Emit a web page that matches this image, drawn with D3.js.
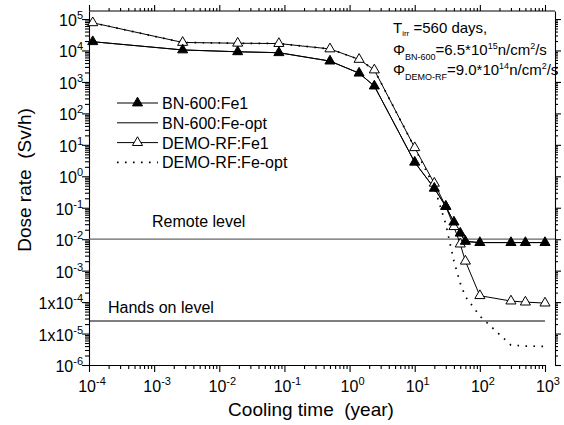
<!DOCTYPE html>
<html>
<head>
<meta charset="utf-8">
<script src="https://cdn.jsdelivr.net/npm/d3@7"></script>
<style>
  body { margin: 0; background: #fff; }
  svg { display: block; font-family: "Liberation Sans", Arial, sans-serif; }
  text { white-space: pre; }
</style>
</head>
<body>
<svg id="chart" width="564" height="425"></svg>
<script>
// cooling times (year): 1 h, 1 d, 7 d, 30 d, then years
var times = [1/8760, 1/365, 7/365, 30/365, 0.5, 1.4, 2.4, 10, 20, 30, 40, 50, 60, 100, 300, 500, 1000];

// dose rate (Sv/h)
var bnFe1     = [1.9e4, 1.04e4, 9.1e3, 8.5e3, 4.6e3, 1.9e3, 740, 2.8, 0.415, 0.11, 0.035, 0.0155, 0.0085, 0.0078, 0.0078, 0.0078, 0.0078];
var bnFeOpt   = [1.9e4, 1.04e4, 9.1e3, 8.5e3, 4.6e3, 1.9e3, 740, 2.8, 0.415, 0.11, 0.035, 0.0155, 0.0085, 0.0078, 0.0078, 0.0078, 0.0078];
var demoFe1   = [7.6e4, 1.8e4, 1.7e4, 1.66e4, 1.12e4, 5.2e3, 2.4e3, 8.1, 0.6, 0.11, 0.025, 0.007, 0.002, 1.6e-4, 1.08e-4, 1.0e-4, 9.3e-5];
var demoFeOpt = [7.6e4, 1.8e4, 1.7e4, 1.66e4, 1.12e4, 5.2e3, 2.4e3, 8.1, 0.45, 0.03, 2e-3, 4e-4, 1.5e-4, 3.6e-5, 4.3e-6, 4e-6, 3.9e-6];

var remoteLevel = 1e-2;
var handsOnLevel = 2.5e-5;

var xExp = [-4, -3, -2, -1, 0, 1, 2, 3];
var yExp = [5, 4, 3, 2, 1, 0, -1, -2, -3, -4, -5, -6];
var yPrefix = {"-4": "1x", "-5": "1x"};

var legendNames = ["BN-600:Fe1", "BN-600:Fe-opt", "DEMO-RF:Fe1", "DEMO-RF:Fe-opt"];

var svg = d3.select("#chart");

var x = d3.scaleLog().domain([1e-4, 1e3]).range([89, 545]);
var y = d3.scaleLog().domain([1e-6, 1.8e5]).range([365, 11]);
var frameRight = 555, frameTop = 11;

// tick values
var xMajor = xExp.map(function(e){ return Math.pow(10, e); });
var xMinor = [];
for (var e = -4; e < 3; e++) for (var k = 2; k < 10; k++) xMinor.push(k * Math.pow(10, e));
var yMajor = yExp.map(function(e){ return Math.pow(10, e); });
var yMinor = [];
for (var e2 = -6; e2 < 5; e2++) for (var k2 = 2; k2 < 10; k2++) yMinor.push(k2 * Math.pow(10, e2));

function tickAxis(gen, vals, size) {
  return gen.tickValues(vals).tickSize(size).tickSizeOuter(0).tickFormat("");
}

// bottom axis
var gb = svg.append("g").attr("transform", "translate(0,365)");
gb.call(tickAxis(d3.axisBottom(x), xMajor, 7));
gb.append("g").call(tickAxis(d3.axisBottom(x), xMinor, 4)).select(".domain").remove();
// top ticks
var gt = svg.append("g").attr("transform", "translate(0," + frameTop + ")");
gt.call(tickAxis(d3.axisTop(x), xMajor, 6)).select(".domain").remove();
gt.append("g").call(tickAxis(d3.axisTop(x), xMinor, 3)).select(".domain").remove();
// left axis
var gl = svg.append("g").attr("transform", "translate(89,0)");
gl.call(tickAxis(d3.axisLeft(y), yMajor, 7));
gl.append("g").call(tickAxis(d3.axisLeft(y), yMinor, 4)).select(".domain").remove();
// right ticks
var gr = svg.append("g").attr("transform", "translate(" + frameRight + ",0)");
gr.call(tickAxis(d3.axisRight(y), yMajor, 6));
gr.append("g").call(tickAxis(d3.axisRight(y), yMinor, 3)).select(".domain").remove();

svg.selectAll(".tick line, .domain").attr("stroke", "#000").attr("stroke-width", 1.1);

// top frame line
svg.append("line")
  .attr("x1", x(1e-4)).attr("x2", frameRight)
  .attr("y1", frameTop).attr("y2", frameTop)
  .attr("stroke", "#000").attr("stroke-width", 1.1);

// tick labels
svg.append("g").selectAll("text").data(xExp).join("text")
  .attr("x", function(d){ return x(Math.pow(10, d)) + 3; })
  .attr("y", 392)
  .attr("text-anchor", "middle")
  .attr("font-size", 16)
  .each(function(d){
    var t = d3.select(this);
    t.append("tspan").text("10");
    t.append("tspan").attr("dy", -7).attr("font-size", 11).text(d);
  });

svg.append("g").selectAll("text").data(yExp).join("text")
  .attr("x", 83)
  .attr("y", function(d){ return y(Math.pow(10, d)) + 7; })
  .attr("text-anchor", "end")
  .attr("font-size", 16)
  .each(function(d){
    var t = d3.select(this);
    t.append("tspan").text((yPrefix[d] || "") + "10");
    t.append("tspan").attr("dy", -7).attr("font-size", 11).text(d);
  });

// axis titles
svg.append("text")
  .attr("x", 311).attr("y", 416)
  .attr("text-anchor", "middle")
  .attr("font-size", 19)
  .text("Cooling time  (year)");

svg.append("text")
  .attr("transform", "translate(31,180) rotate(-90)")
  .attr("text-anchor", "middle")
  .attr("font-size", 19)
  .text("Dose rate  (Sv/h)");

// reference levels
svg.append("line")
  .attr("x1", x(1e-4)).attr("x2", frameRight)
  .attr("y1", y(remoteLevel)).attr("y2", y(remoteLevel))
  .attr("stroke", "#666").attr("stroke-width", 1.3);
svg.append("line")
  .attr("x1", x(1e-4)).attr("x2", x(1e3))
  .attr("y1", y(handsOnLevel)).attr("y2", y(handsOnLevel))
  .attr("stroke", "#000").attr("stroke-width", 1.1);

svg.append("text").attr("x", 152).attr("y", y(remoteLevel) - 12)
  .attr("font-size", 16).text("Remote level");
svg.append("text").attr("x", 108).attr("y", y(handsOnLevel) - 8)
  .attr("font-size", 16).text("Hands on level");

// series
var line = d3.line()
  .x(function(d){ return x(d[0]); })
  .y(function(d){ return y(d[1]); });

function pairs(vals) { return times.map(function(t, i){ return [t, vals[i]]; }); }

svg.append("path").datum(pairs(demoFeOpt)).attr("d", line)
  .attr("fill", "none").attr("stroke", "#000").attr("stroke-width", 1.7)
  .attr("stroke-dasharray", "1.6,6.4");
svg.append("path").datum(pairs(bnFeOpt)).attr("d", line)
  .attr("fill", "none").attr("stroke", "#000").attr("stroke-width", 1);
svg.append("path").datum(pairs(demoFe1)).attr("d", line)
  .attr("fill", "none").attr("stroke", "#000").attr("stroke-width", 1);
svg.append("path").datum(pairs(bnFe1)).attr("d", line)
  .attr("fill", "none").attr("stroke", "#000").attr("stroke-width", 1);

var tri = d3.symbol().type(d3.symbolTriangle).size(44);

svg.append("g").selectAll("path").data(pairs(demoFe1)).join("path")
  .attr("transform", function(d){ return "translate(" + x(d[0]) + "," + y(d[1]) + ")"; })
  .attr("d", tri).attr("fill", "#fff").attr("stroke", "#000").attr("stroke-width", 1);
svg.append("g").selectAll("path").data(pairs(bnFe1)).join("path")
  .attr("transform", function(d){ return "translate(" + x(d[0]) + "," + y(d[1]) + ")"; })
  .attr("d", tri).attr("fill", "#000").attr("stroke", "#000").attr("stroke-width", 1);

// legend
var leg = svg.append("g").attr("transform", "translate(117,103)");
legendNames.forEach(function(name, i){
  var g = leg.append("g").attr("transform", "translate(0," + (i * 19.8) + ")");
  var l = g.append("line").attr("x1", 0).attr("x2", 41).attr("y1", 0).attr("y2", 0)
    .attr("stroke", "#000");
  if (i == 3) l.attr("stroke-width", 1.7).attr("stroke-dasharray", "1.6,6.4");
  else l.attr("stroke-width", 1);
  if (i == 0 || i == 2) {
    g.append("path").attr("transform", "translate(20.5,0)").attr("d", tri)
      .attr("fill", i == 0 ? "#000" : "#fff").attr("stroke", "#000");
  }
  g.append("text").attr("x", 45).attr("y", 6).attr("font-size", 16).text(name);
});

// irradiation info
var info = svg.append("g").attr("font-size", 15);
var t1 = info.append("text").attr("x", 393).attr("y", 33);
t1.append("tspan").text("T");
t1.append("tspan").attr("dy", 3).attr("font-size", 8).text("irr");
t1.append("tspan").attr("dy", -3).text(" =560 days,");

var t2 = info.append("text").attr("x", 393).attr("y", 55);
t2.append("tspan").text("Φ");
t2.append("tspan").attr("dy", 5).attr("font-size", 9).text("BN-600");
t2.append("tspan").attr("dy", -5).text("=6.5*10");
t2.append("tspan").attr("dy", -6).attr("font-size", 9).text("15");
t2.append("tspan").attr("dy", 6).text("n/cm");
t2.append("tspan").attr("dy", -6).attr("font-size", 9).text("2");
t2.append("tspan").attr("dy", 6).text("/s");

var t3 = info.append("text").attr("x", 393).attr("y", 75);
t3.append("tspan").text("Φ");
t3.append("tspan").attr("dy", 5).attr("font-size", 9).text("DEMO-RF");
t3.append("tspan").attr("dy", -5).text("=9.0*10");
t3.append("tspan").attr("dy", -6).attr("font-size", 9).text("14");
t3.append("tspan").attr("dy", 6).text("n/cm");
t3.append("tspan").attr("dy", -6).attr("font-size", 9).text("2");
t3.append("tspan").attr("dy", 6).text("/s");
</script>
</body>
</html>
